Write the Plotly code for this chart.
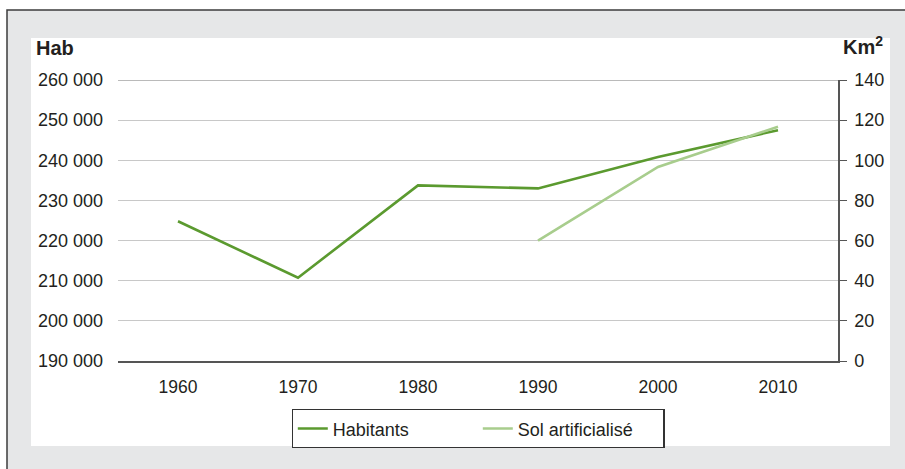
import plotly.graph_objects as go

# ---- data ----
years = ["1960", "1970", "1980", "1990", "2000", "2010"]
habitants = [224800, 210750, 233750, 233000, 240800, 247500]
sol_years = ["1990", "2000", "2010"]
sol_artificialise = [60, 96.7, 116.7]

left_tickvals = [190000, 200000, 210000, 220000, 230000, 240000, 250000, 260000]
left_ticktext = ["190 000", "200 000", "210 000", "220 000", "230 000", "240 000", "250 000", "260 000"]
right_tickvals = [0, 20, 40, 60, 80, 100, 120, 140]

# ---- layout geometry (pixels) ----
W, H = 905, 469
PL, PR, PT, PB = 118, 838, 80, 361


def px(x):
    return (x - PL) / (PR - PL)


def py(y):
    return (PB - y) / (PB - PT)


FONT = "Liberation Sans, Arial, Helvetica, sans-serif"
GREEN = "#5b9a2f"
LIGHT = "#a8cd8d"

fig = go.Figure()
fig.add_trace(go.Scatter(x=years, y=habitants, mode="lines", name="Habitants",
                         line=dict(color=GREEN, width=2.6), yaxis="y"))
fig.add_trace(go.Scatter(x=sol_years, y=sol_artificialise, mode="lines", name="Sol artificialisé",
                         line=dict(color=LIGHT, width=2.6), yaxis="y2"))

shapes = [
    dict(type="rect", xref="paper", yref="paper", layer="below",
         x0=px(7), x1=px(930), y0=py(10), y1=py(490),
         fillcolor="#e6e7e8", line=dict(color="#3c3c3c", width=1.5)),
    dict(type="rect", xref="paper", yref="paper", layer="below",
         x0=px(31), x1=px(890), y0=py(38), y1=py(446),
         fillcolor="white", line=dict(width=0)),
    dict(type="line", xref="paper", yref="y", layer="below",
         x0=0, x1=1, y0=left_tickvals[-1], y1=left_tickvals[-1],
         line=dict(color="#a3a3a3", width=1.5)),
]

annotations = [
    dict(text="<b>Hab</b>", xref="paper", yref="paper", x=px(34), y=py(48),
         xanchor="left", yanchor="middle", showarrow=False,
         font=dict(family=FONT, size=20, color="#231f20")),
    dict(text="<b>Km<sup>2</sup></b>", xref="paper", yref="paper", x=px(885), y=py(46),
         xanchor="right", yanchor="middle", showarrow=False,
         font=dict(family=FONT, size=20, color="#231f20")),
]

fig.update_layout(
    width=W, height=H,
    margin=dict(l=PL, r=W - PR, t=PT, b=H - PB, pad=0),
    paper_bgcolor="white", plot_bgcolor="white",
    font=dict(family=FONT, size=18, color="#231f20"),
    shapes=shapes, annotations=annotations,
    showlegend=True,
    legend=dict(orientation="h", x=0.5, xanchor="center", y=py(409), yanchor="top",
                bgcolor="white", bordercolor="#333333", borderwidth=1.3,
                font=dict(family=FONT, size=18, color="#231f20"),
                entrywidth=140, itemwidth=30, tracegroupgap=0),
    xaxis=dict(type="category", categoryorder="array", categoryarray=years,
               range=[-0.5, len(years) - 0.5], showgrid=False, zeroline=False,
               showline=True, linecolor="#555555", linewidth=1.5, ticks="",
               ticklabelstandoff=9, tickfont=dict(size=17.5)),
    yaxis=dict(range=[left_tickvals[0], left_tickvals[-1]], tickvals=left_tickvals,
               ticktext=left_ticktext, showgrid=True, gridcolor="#c8c8c8", gridwidth=1.2,
               zeroline=False, showline=False, ticks="", ticklabelstandoff=14,
               tickfont=dict(size=18)),
    yaxis2=dict(range=[right_tickvals[0], right_tickvals[-1]], tickvals=right_tickvals,
                overlaying="y", side="right", showgrid=False, zeroline=False,
                showline=True, linecolor="#555555", linewidth=1.5,
                ticks="outside", ticklen=7, tickcolor="#555555", tickwidth=1.3,
                ticklabelstandoff=4, tickfont=dict(size=18)),
)

fig.write_html("out.html", config={"displayModeBar": False},
               post_script="document.body.style.margin='0';document.body.style.overflow='hidden';")
